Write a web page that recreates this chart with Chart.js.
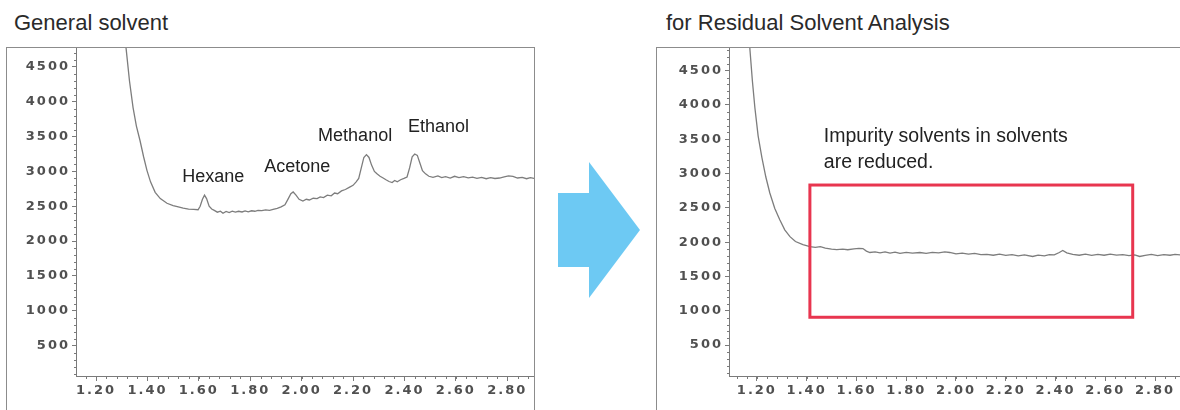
<!DOCTYPE html>
<html>
<head>
<meta charset="utf-8">
<script src="https://cdn.jsdelivr.net/npm/chart.js@4.4.1/dist/chart.umd.min.js"></script>
<style>
  html, body { margin: 0; padding: 0; background: #fff; }
  body { width: 1180px; height: 410px; position: relative; overflow: hidden; font-family: "Liberation Sans", Arial, sans-serif; }
  .title { position: absolute; top: 10px; font-size: 22px; color: #2a2a2a; white-space: nowrap; }
  .frame { position: absolute; top: 47px; height: 420px; border: 1px solid #8c8c8c; box-sizing: border-box; }
  .frame canvas { position: absolute; left: 0; top: 0; }
  #arrow { position: absolute; left: 558px; top: 162px; width: 82px; height: 136px; background: #6dc9f3;
           clip-path: polygon(0 31px, 31px 31px, 31px 0, 82px 68px, 31px 136px, 31px 105px, 0 105px); }
</style>
</head>
<body>
<div class="title" style="left:14px">General solvent</div>
<div class="title" style="left:666px">for Residual Solvent Analysis</div>

<div class="frame" style="left:6px; width:529px;">
  <canvas id="leftChart" width="527" height="362" style="width:527px;height:362px"></canvas>
</div>
<div class="frame" style="left:656px; width:600px;">
  <canvas id="rightChart" width="523" height="362" style="width:523px;height:362px"></canvas>
</div>
<div id="arrow"></div>

<script>
// ---------------- DATA ----------------
const xTicks = [1.20, 1.40, 1.60, 1.80, 2.00, 2.20, 2.40, 2.60, 2.80];
const yTicks = [500, 1000, 1500, 2000, 2500, 3000, 3500, 4000, 4500];

// general solvent chromatogram
const leftX = [1.300, 1.317, 1.330, 1.344, 1.357, 1.371, 1.385, 1.398, 1.412, 1.430, 1.450, 1.476, 1.500, 1.520, 1.539,
  1.560, 1.580, 1.597, 1.605, 1.614, 1.622, 1.630, 1.640, 1.650, 1.660, 1.672, 1.684, 1.694, 1.706, 1.718, 1.730,
  1.742, 1.755, 1.768, 1.780, 1.792, 1.805, 1.818, 1.830, 1.845, 1.860, 1.875, 1.889, 1.905, 1.920, 1.935, 1.948,
  1.958, 1.967, 1.978, 1.990, 2.005, 2.018, 2.030, 2.045, 2.060, 2.072, 2.085, 2.100, 2.115, 2.128, 2.140, 2.155,
  2.170, 2.185, 2.200, 2.212, 2.222, 2.232, 2.242, 2.252, 2.262, 2.272, 2.283, 2.293, 2.305, 2.317, 2.328, 2.340,
  2.352, 2.362, 2.372, 2.385, 2.398, 2.410, 2.420, 2.430, 2.440, 2.450, 2.460, 2.470, 2.482, 2.495, 2.511, 2.530,
  2.545, 2.560, 2.578, 2.595, 2.612, 2.630, 2.648, 2.665, 2.682, 2.700, 2.718, 2.735, 2.752, 2.770, 2.788, 2.805,
  2.822, 2.840, 2.858, 2.875, 2.890, 2.905];
const leftY = [5200, 4760, 4300, 3915, 3650, 3443, 3210, 3015, 2850, 2700, 2610, 2543, 2510, 2490, 2472,
  2460, 2455, 2450, 2500, 2600, 2660, 2610, 2500, 2460, 2440, 2415, 2430, 2400, 2425, 2410, 2430,
  2415, 2428, 2418, 2432, 2420, 2435, 2428, 2440, 2436, 2448, 2442, 2455, 2470, 2490, 2520, 2610,
  2680, 2705, 2660, 2600, 2575, 2600, 2590, 2615, 2610, 2635, 2625, 2660, 2650, 2690, 2680, 2720,
  2740, 2770, 2800, 2850, 2900, 3050, 3200, 3240, 3200, 3090, 3000, 2965, 2930, 2905, 2880, 2855,
  2840, 2870, 2850, 2880, 2900, 2920, 3050, 3210, 3250, 3230, 3120, 3010, 2965, 2930, 2915, 2935,
  2910, 2925, 2905, 2930, 2912, 2925, 2908, 2918, 2900, 2915, 2895, 2910, 2898, 2905, 2920, 2935,
  2930, 2905, 2915, 2895, 2910, 2900];

// residual solvent analysis grade
const rightX = [1.165, 1.172, 1.182, 1.192, 1.205, 1.220, 1.236, 1.252, 1.272, 1.292, 1.312, 1.333, 1.355, 1.385,
  1.413, 1.435, 1.455, 1.475, 1.500, 1.521, 1.545, 1.565, 1.590, 1.610, 1.626, 1.640, 1.654, 1.675, 1.695, 1.715,
  1.735, 1.755, 1.775, 1.800, 1.825, 1.855, 1.880, 1.905, 1.930, 1.955, 1.975, 2.000, 2.025, 2.050, 2.075, 2.100,
  2.124, 2.150, 2.175, 2.200, 2.225, 2.250, 2.275, 2.308, 2.330, 2.355, 2.375, 2.395, 2.415, 2.429, 2.445, 2.469,
  2.495, 2.520, 2.545, 2.570, 2.595, 2.620, 2.645, 2.670, 2.695, 2.718, 2.738, 2.760, 2.785, 2.810, 2.835, 2.860,
  2.880, 2.905];
const rightY = [5300, 4812, 4350, 3960, 3550, 3237, 2950, 2717, 2490, 2326, 2180, 2081, 2010, 1965,
  1936, 1925, 1935, 1915, 1900, 1893, 1898, 1890, 1902, 1910, 1907, 1870, 1850, 1860, 1845, 1858,
  1842, 1855, 1838, 1852, 1840, 1850, 1836, 1852, 1845, 1860, 1850, 1830, 1842, 1825, 1838, 1818,
  1821, 1810, 1826, 1808, 1820, 1800, 1815, 1792, 1812, 1800, 1818, 1815, 1850, 1879, 1845, 1821,
  1810, 1825, 1808, 1822, 1810, 1826, 1812, 1820, 1805, 1815, 1792, 1808, 1822, 1805, 1818, 1810,
  1822, 1815];

const peakLabels = ["Hexane", "Acetone", "Methanol", "Ethanol"];
const peakLabelX = [1.535, 1.854, 2.064, 2.414];
const peakLabelY = [2843, 2986, 3443, 3571];

const noteLines = ["Impurity solvents in solvents", "are reduced."];
const noteX = 1.469;
const noteY = [3456, 3080];
const boxX = [1.413, 2.710];
const boxY = [906, 2833];

// ---------------- HELPERS ----------------
const axisColor = "#7a7a7a";
const tickFont = { family: "DejaVu Sans", size: 13, weight: "bold" };

function toPoints(xs, ys) {
    return xs.map((x, i) => ({ x: x, y: ys[i] }));
}

// tracked tick labels + minor ticks
const axisPlugin = {
    id: "axisExtras",
    beforeDraw(chart) {
        chart.ctx.letterSpacing = "2px";
    },
    afterDraw(chart) {
        const ctx = chart.ctx;
        const xs = chart.scales.x, ys = chart.scales.y;
        const area = chart.chartArea;
        ctx.save();
        ctx.letterSpacing = "0px";
        ctx.strokeStyle = axisColor;
        ctx.lineWidth = 1;
        ctx.beginPath();
        for (let v = 1.12; v <= xs.max + 1e-9; v += 0.04) {
            const px = Math.round(xs.getPixelForValue(v)) + 0.5;
            if (px < area.left || px > area.right) continue;
            ctx.moveTo(px, area.bottom);
            ctx.lineTo(px, area.bottom + 3);
        }
        for (let v = 100; v <= ys.max; v += 100) {
            if (v % 500 === 0 || v < ys.min) continue;
            const py = Math.round(ys.getPixelForValue(v)) + 0.5;
            ctx.moveTo(area.left, py);
            ctx.lineTo(area.left - 2, py);
        }
        ctx.stroke();
        ctx.restore();
    }
};

const annotationPlugin = {
    id: "annotations",
    afterDraw(chart, args, opts) {
        const ctx = chart.ctx;
        const xs = chart.scales.x, ys = chart.scales.y;
        ctx.save();
        ctx.letterSpacing = "0px";
        if (opts.box) {
            const l = xs.getPixelForValue(opts.box.x[0]), r = xs.getPixelForValue(opts.box.x[1]);
            const t = ys.getPixelForValue(opts.box.y[1]), b = ys.getPixelForValue(opts.box.y[0]);
            ctx.strokeStyle = "#e8354f";
            ctx.lineWidth = 3;
            ctx.strokeRect(l, t, r - l, b - t);
        }
        ctx.fillStyle = "#222";
        ctx.textBaseline = "alphabetic";
        ctx.textAlign = "left";
        ctx.font = opts.font;
        (opts.labels || []).forEach(lb => {
            ctx.fillText(lb.text, xs.getPixelForValue(lb.x), ys.getPixelForValue(lb.y));
        });
        ctx.restore();
    }
};

function makeChart(id, xs, ys, xMin, xMax, yMin, yMax, axisWidth, annot) {
    const ctx = document.getElementById(id).getContext("2d");
    return new Chart(ctx, {
        type: "scatter",
        data: {
            datasets: [{
                data: toPoints(xs, ys),
                showLine: true,
                borderColor: "#7d7d7d",
                borderWidth: 1.3,
                pointRadius: 0,
                tension: 0
            }]
        },
        options: {
            responsive: false,
            animation: false,
            events: [],
            layout: { padding: 0, autoPadding: false },
            plugins: {
                legend: { display: false },
                tooltip: { enabled: false },
                annotations: annot
            },
            scales: {
                x: {
                    type: "linear",
                    min: xMin,
                    max: xMax,
                    afterBuildTicks: s => { s.ticks = xTicks.map(v => ({ value: v })); },
                    afterFit: s => { s.height = 34; s.paddingLeft = 0; s.paddingRight = 0; },
                    border: { display: true, color: axisColor, width: 1 },
                    grid: { drawOnChartArea: false, drawTicks: true, tickLength: 5, color: axisColor },
                    ticks: {
                        font: tickFont,
                        color: "#505050",
                        padding: 2,
                        maxRotation: 0,
                        autoSkip: false,
                        callback: v => v.toFixed(2)
                    }
                },
                y: {
                    type: "linear",
                    min: yMin,
                    max: yMax,
                    afterBuildTicks: s => { s.ticks = yTicks.map(v => ({ value: v })); },
                    afterFit: s => { s.width = axisWidth; s.paddingTop = 0; s.paddingBottom = 0; },
                    border: { display: true, color: axisColor, width: 1 },
                    grid: { drawOnChartArea: false, drawTicks: true, tickLength: 4, color: axisColor },
                    ticks: {
                        font: tickFont,
                        color: "#505050",
                        padding: 2,
                        autoSkip: false,
                        callback: v => String(v)
                    }
                }
            }
        },
        plugins: [axisPlugin, annotationPlugin]
    });
}

makeChart("leftChart", leftX, leftY, 1.122, 2.904, 65, 4770, 69, {
    font: "18px 'Liberation Sans', Arial, sans-serif",
    labels: peakLabels.map((t, i) => ({ text: t, x: peakLabelX[i], y: peakLabelY[i] }))
});

makeChart("rightChart", rightX, rightY, 1.088, 2.90, 50, 4830, 72, {
    font: "19.5px 'Liberation Sans', Arial, sans-serif",
    labels: noteLines.map((t, i) => ({ text: t, x: noteX, y: noteY[i] })),
    box: { x: boxX, y: boxY }
});
</script>
</body>
</html>
